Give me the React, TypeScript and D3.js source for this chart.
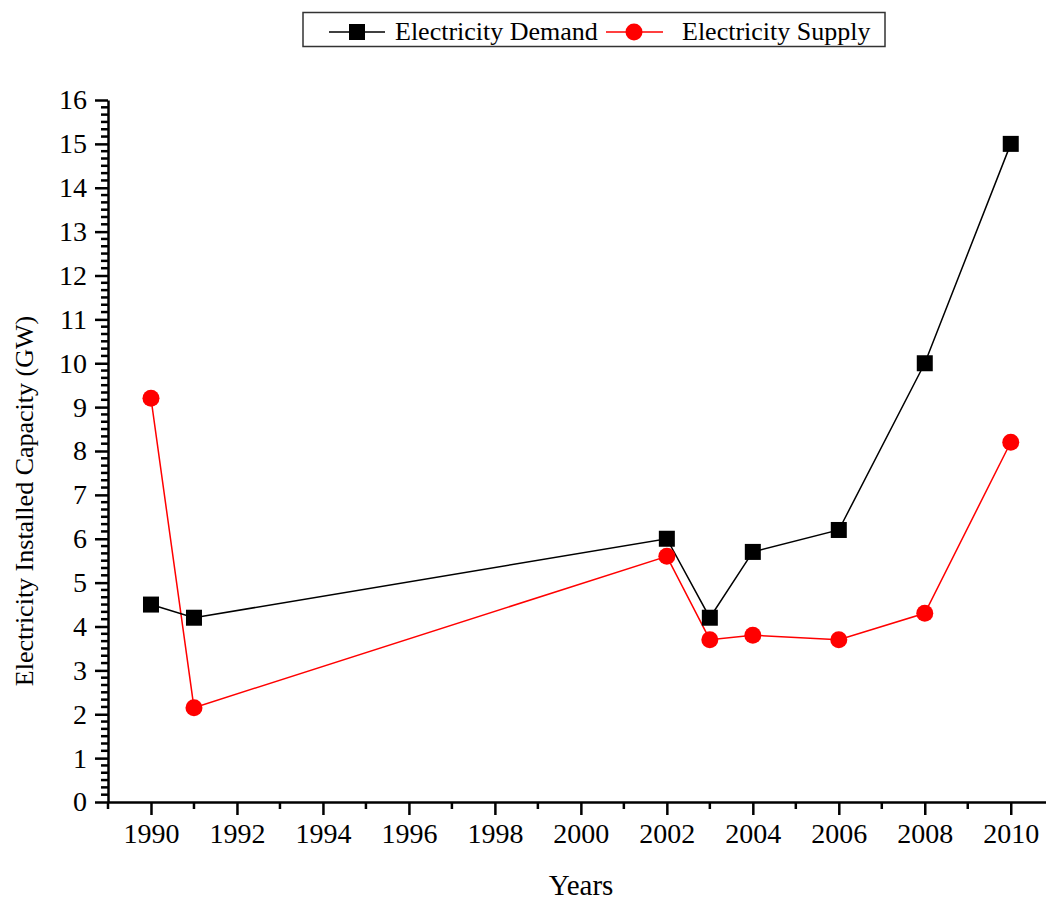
import * as d3 from "d3";
import { useEffect, useRef } from "react";

// data
const years = [1990, 1991, 2002, 2003, 2004, 2006, 2008, 2010];
const demand = [4.5, 4.2, 6.0, 4.2, 5.7, 6.2, 10.0, 15.0];
const supply = [9.2, 2.15, 5.6, 3.7, 3.8, 3.7, 4.3, 8.2];
const xTicks = [1990, 1992, 1994, 1996, 1998, 2000, 2002, 2004, 2006, 2008, 2010];
const yTicks = d3.range(0, 17);

const FONT = "'Liberation Serif', 'Times New Roman', serif";

const App = () => {
  const ref = useRef<SVGSVGElement | null>(null);

  useEffect(() => {
    const svg = d3.select(ref.current);
    svg.selectAll("*").remove();

    const x = d3.scaleLinear().domain([1989, 2010.82]).range([108, 1046]);
    const y = d3.scaleLinear().domain([0, 16]).range([802, 100]);

    // minor ticks
    const g = svg.append("g");
    g.selectAll(".xminor")
      .data(d3.range(1989, 2011, 2))
      .enter()
      .append("line")
      .attr("x1", (d) => x(d))
      .attr("x2", (d) => x(d))
      .attr("y1", 802)
      .attr("y2", 809)
      .attr("stroke", "#000")
      .attr("stroke-width", 2.5);
    g.selectAll(".yminor")
      .data(d3.range(0, 16 * 6).filter((i) => i % 6 !== 0).map((i) => i / 6))
      .enter()
      .append("line")
      .attr("x1", 101)
      .attr("x2", 108)
      .attr("y1", (d) => y(d))
      .attr("y2", (d) => y(d))
      .attr("stroke", "#000")
      .attr("stroke-width", 2.5);

    // x axis
    const xAxis = svg
      .append("g")
      .attr("transform", "translate(0,802)")
      .call(
        d3.axisBottom(x).tickValues(xTicks).tickFormat(d3.format("d")).tickSize(13).tickSizeOuter(0).tickPadding(8)
      );
    xAxis.select(".domain").attr("stroke-width", 2.5);
    xAxis.selectAll(".tick line").attr("stroke-width", 2.5);
    xAxis.selectAll("text").attr("font-family", FONT).attr("font-size", 28).attr("fill", "#000");

    // y axis
    const yAxis = svg
      .append("g")
      .attr("transform", "translate(108,0)")
      .call(d3.axisLeft(y).tickValues(yTicks).tickSize(13).tickSizeOuter(0).tickPadding(8));
    yAxis.select(".domain").attr("stroke-width", 2.5);
    yAxis.selectAll(".tick line").attr("stroke-width", 2.5);
    yAxis.selectAll("text").attr("font-family", FONT).attr("font-size", 28).attr("fill", "#000");

    // axis titles
    svg
      .append("text")
      .attr("x", 581)
      .attr("y", 895)
      .attr("text-anchor", "middle")
      .attr("font-family", FONT)
      .attr("font-size", 29)
      .text("Years");
    svg
      .append("text")
      .attr("transform", "translate(33,501) rotate(-90)")
      .attr("text-anchor", "middle")
      .attr("font-family", FONT)
      .attr("font-size", 26)
      .text("Electricity Installed Capacity (GW)");

    const line = d3
      .line<number>()
      .x((_, i) => x(years[i]))
      .y((d) => y(d));

    // supply series
    svg.append("path").datum(supply).attr("d", line).attr("fill", "none").attr("stroke", "#ff0000").attr("stroke-width", 1.5);
    // demand series
    svg.append("path").datum(demand).attr("d", line).attr("fill", "none").attr("stroke", "#000").attr("stroke-width", 1.5);

    svg
      .selectAll(".sup")
      .data(supply)
      .enter()
      .append("circle")
      .attr("cx", (_, i) => x(years[i]))
      .attr("cy", (d) => y(d))
      .attr("r", 8.5)
      .attr("fill", "#ff0000");
    svg
      .selectAll(".dem")
      .data(demand)
      .enter()
      .append("rect")
      .attr("x", (_, i) => x(years[i]) - 8)
      .attr("y", (d) => y(d) - 8)
      .attr("width", 16)
      .attr("height", 16)
      .attr("fill", "#000");

    // legend
    const lg = svg.append("g");
    lg.append("rect")
      .attr("x", 303)
      .attr("y", 12.5)
      .attr("width", 582)
      .attr("height", 34)
      .attr("fill", "#fff")
      .attr("stroke", "#333")
      .attr("stroke-width", 1.5);
    lg.append("line").attr("x1", 329).attr("x2", 385).attr("y1", 32).attr("y2", 32).attr("stroke", "#000").attr("stroke-width", 1.5);
    lg.append("rect").attr("x", 349).attr("y", 24).attr("width", 16).attr("height", 16).attr("fill", "#000");
    lg.append("text")
      .attr("x", 395)
      .attr("y", 40)
      .attr("font-family", FONT)
      .attr("font-size", 26)
      .text("Electricity Demand");
    lg.append("line").attr("x1", 606).attr("x2", 663).attr("y1", 32).attr("y2", 32).attr("stroke", "#ff0000").attr("stroke-width", 1.5);
    lg.append("circle").attr("cx", 634).attr("cy", 32).attr("r", 8.5).attr("fill", "#ff0000");
    lg.append("text")
      .attr("x", 682)
      .attr("y", 40)
      .attr("font-family", FONT)
      .attr("font-size", 26)
      .text("Electricity Supply");
  }, []);

  return <svg ref={ref} width={1046} height={901} style={{ display: "block", position: "absolute", left: 0, top: 0 }} />;
};

export default App;
